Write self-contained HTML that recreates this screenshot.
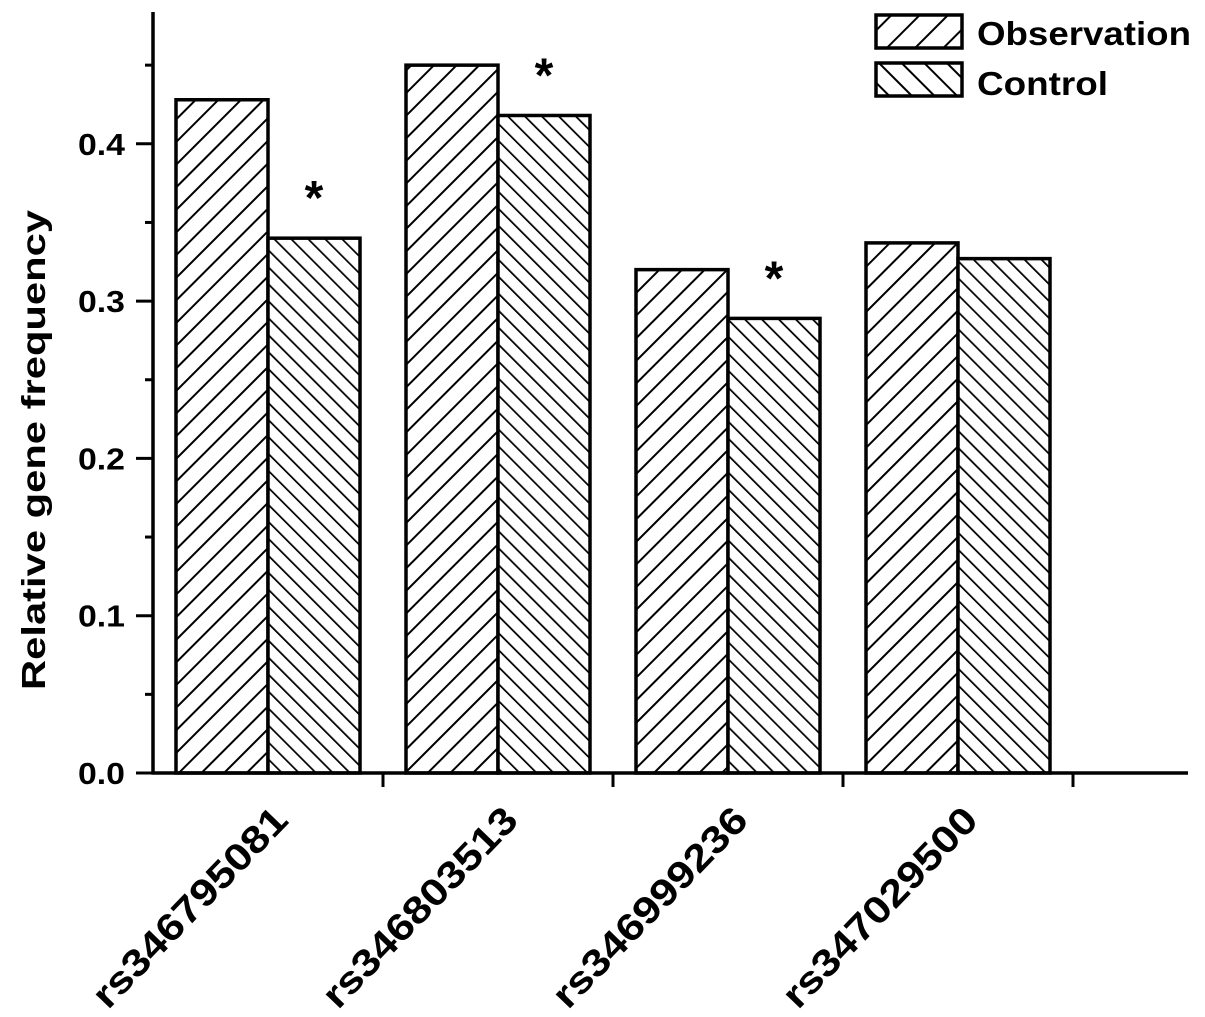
<!DOCTYPE html>
<html><head><meta charset="utf-8"><style>
html,body{margin:0;padding:0;background:#fff;}
svg{display:block;font-family:"Liberation Sans",Arial,sans-serif;font-weight:bold;}
</style></head><body>
<svg id="chart" width="1205" height="1017" viewBox="0 0 1205 1017">
<defs>
<pattern id="hatchObs" patternUnits="userSpaceOnUse" width="16" height="16" patternTransform="rotate(45)">
<rect width="16" height="16" fill="#fff"/><line x1="0" y1="0" x2="0" y2="16" stroke="#000" stroke-width="4"/>
</pattern>
<pattern id="hatchCtrl" patternUnits="userSpaceOnUse" width="12" height="12" patternTransform="rotate(-45)">
<rect width="12" height="12" fill="#fff"/><line x1="0" y1="0" x2="0" y2="12" stroke="#000" stroke-width="3.5"/>
</pattern>
<pattern id="hatchObsL" patternUnits="userSpaceOnUse" width="20" height="20" patternTransform="rotate(45)">
<rect width="20" height="20" fill="#fff"/><line x1="0" y1="0" x2="0" y2="20" stroke="#000" stroke-width="4"/>
</pattern>
<pattern id="hatchCtrlL" patternUnits="userSpaceOnUse" width="16" height="16" patternTransform="rotate(-45)">
<rect width="16" height="16" fill="#fff"/><line x1="0" y1="0" x2="0" y2="16" stroke="#000" stroke-width="4"/>
</pattern>
</defs>
<g id="bars"></g>
<g id="axes"></g>
<g>
<rect x="876" y="15" width="86" height="33" fill="url(#hatchObsL)" stroke="#000" stroke-width="3.5"/>
<text x="977" y="45" font-size="33" textLength="214" lengthAdjust="spacingAndGlyphs">Observation</text>
<rect x="876" y="63" width="86" height="33" fill="url(#hatchCtrlL)" stroke="#000" stroke-width="3.5"/>
<text x="977" y="95" font-size="33" textLength="131" lengthAdjust="spacingAndGlyphs">Control</text>
</g>
<text transform="translate(45,450) rotate(-90)" text-anchor="middle" font-size="33" textLength="480" lengthAdjust="spacingAndGlyphs">Relative gene frequency</text>
</svg>
<script>
const categories = ["rs346795081","rs346803513","rs346999236","rs347029500"];
const observation = [0.428, 0.450, 0.320, 0.337];
const control = [0.340, 0.418, 0.289, 0.327];
const significant = [true, true, true, false];
const yTicks = [0.0, 0.1, 0.2, 0.3, 0.4];
const yTickLabels = ["0.0","0.1","0.2","0.3","0.4"];

const NS = "http://www.w3.org/2000/svg";
const x0 = 153, band = 230, y0 = 773, pxPerUnit = 1573;
const barW = 92;
function yScale(v){ return y0 - v * pxPerUnit; }
function xCenter(i){ return x0 + band * (i + 0.5); }
function mk(tag, attrs, parent){ const e = document.createElementNS(NS, tag); for (const k in attrs) e.setAttribute(k, attrs[k]); parent.appendChild(e); return e; }

const bars = document.getElementById("bars");
const axes = document.getElementById("axes");

categories.forEach((c, i) => {
  const cx = xCenter(i);
  const o = mk("rect", {x: cx - barW, y: yScale(observation[i]), width: barW, height: y0 - yScale(observation[i]), fill: "url(#hatchObs)", stroke: "#000", "stroke-width": 3.5}, bars);
  
  
  const r = mk("rect", {x: cx, y: yScale(control[i]), width: barW, height: y0 - yScale(control[i]), fill: "url(#hatchCtrl)", stroke: "#000", "stroke-width": 3.5}, bars);
  
  
  if (significant[i]) {
    const s = mk("text", {x: cx + barW / 2, y: yScale(control[i]) - 24, "text-anchor": "middle", "font-size": 48}, bars);
    s.textContent = "*";
    
    
  }
  const t = mk("text", {transform: "translate(" + (cx + 22) + ",822) rotate(-46)", "text-anchor": "end", "font-size": 38, textLength: 262, lengthAdjust: "spacingAndGlyphs"}, axes);
  t.textContent = c;
  
  
  const tk = mk("line", {x1: cx + band / 2, x2: cx + band / 2, y1: y0, y2: y0 + 14, stroke: "#000", "stroke-width": 3}, axes);
  
  
});

const yAxis = mk("line", {x1: x0, x2: x0, y1: 12, y2: y0 + 1.5, stroke: "#000", "stroke-width": 3.5}, axes);


const xAxis = mk("line", {x1: x0 - 1.5, x2: 1188, y1: y0, y2: y0, stroke: "#000", "stroke-width": 3.5}, axes);



yTicks.forEach((v, i) => {
  const y = yScale(v);
  const tk = mk("line", {x1: x0 - 17, x2: x0, y1: y, y2: y, stroke: "#000", "stroke-width": 3}, axes);
  
  
  const m = mk("line", {x1: x0 - 8, x2: x0, y1: yScale(v + 0.05), y2: yScale(v + 0.05), stroke: "#000", "stroke-width": 3}, axes);
  
  
  const l = mk("text", {x: x0 - 28, y: y + 11, "text-anchor": "end", "font-size": 31, textLength: 47, lengthAdjust: "spacingAndGlyphs"}, axes);
  l.textContent = yTickLabels[i];
  
  
});
</script>
</body></html>
